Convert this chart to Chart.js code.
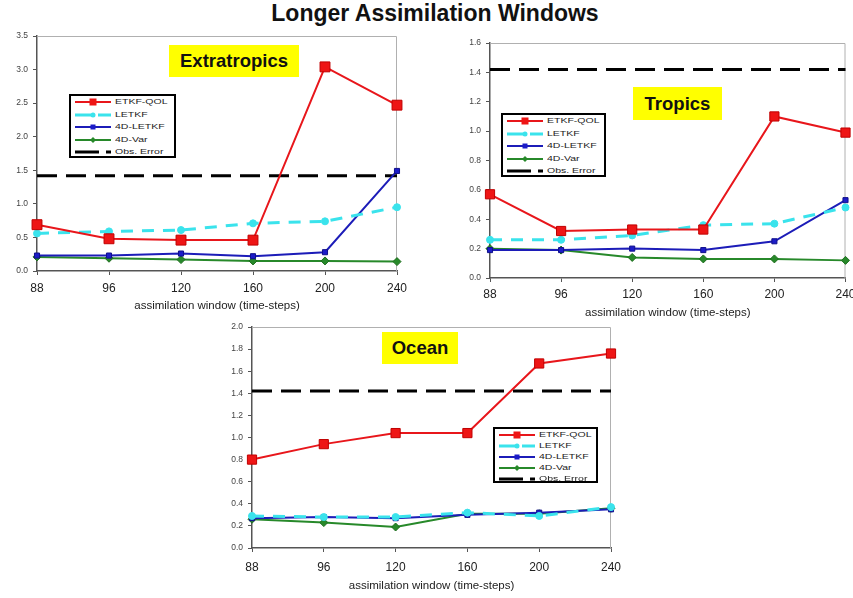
<!DOCTYPE html>
<html>
<head>
<meta charset="utf-8">
<script src="https://cdn.jsdelivr.net/npm/chart.js@4.4.1/dist/chart.umd.min.js"></script>
<style>
  html, body { margin: 0; padding: 0; background: #fff; }
  #page {
    position: relative;
    width: 853px;
    height: 598px;
    overflow: hidden;
    font-family: "Liberation Sans", Arial, sans-serif;
  }
  #page canvas { position: absolute; }
  .main-title {
    position: absolute;
    left: 0;
    top: 0;
    width: 870px;
    text-align: center;
    font-size: 23px;
    font-weight: bold;
    color: #111;
  }
  .badge {
    position: absolute;
    background: #ffff00;
    font-weight: bold;
    font-size: 18.5px;
    color: #111;
    display: flex;
    align-items: center;
    justify-content: center;
  }
  .legend {
    position: absolute;
    box-sizing: border-box;
    border: 2px solid #000;
    background: #fff;
  }
  .legend-row { position: absolute; left: 4px; height: 10px; }
  .legend-row svg { position: absolute; left: 0; top: 0; }
  .legend-row span {
    position: absolute;
    left: 40px;
    top: 0;
    font-family: "Liberation Sans", Arial, sans-serif;
    font-size: 7.5px;
    line-height: 10px;
    color: #222;
    white-space: nowrap;
    transform: scaleX(1.4);
    transform-origin: left center;
  }
</style>
</head>
<body>
<div id="page">
  <div class="main-title">Longer Assimilation Windows</div>
  <canvas id="chart-extra" width="412" height="290" style="left:0;top:28px"></canvas>
  <canvas id="chart-tropics" width="400" height="290" style="left:453px;top:35px"></canvas>
  <canvas id="chart-ocean" width="415" height="279" style="left:215px;top:319px"></canvas>
  <div class="badge" style="left:169px;top:45px;width:130px;height:32px">Extratropics</div>
  <div class="badge" style="left:633px;top:87px;width:89px;height:33px">Tropics</div>
  <div class="badge" style="left:382px;top:332px;width:76px;height:32px">Ocean</div>
  <div class="legend" id="legend-extra" style="left:69px;top:94px;width:107px;height:64px"></div>
  <div class="legend" id="legend-tropics" style="left:501px;top:113px;width:105px;height:64px"></div>
  <div class="legend" id="legend-ocean" style="left:493px;top:427px;width:105px;height:56px"></div>
</div>
<script>
var windows = ["88", "96", "120", "160", "200", "240"];
var seriesNames = ["ETKF-QOL", "LETKF", "4D-LETKF", "4D-Var", "Obs. Error"];
var xTitle = "assimilation window (time-steps)";

// Extratropics
var extraQol = [0.69, 0.48, 0.46, 0.46, 3.04, 2.47];
var extraLetkf = [0.56, 0.59, 0.61, 0.71, 0.74, 0.95];
var extra4dLetkf = [0.23, 0.23, 0.26, 0.22, 0.28, 1.49];
var extra4dVar = [0.21, 0.19, 0.17, 0.15, 0.15, 0.14];
var extraObs = [1.42, 1.42, 1.42, 1.42, 1.42, 1.42];
var extraTicks = [0.0, 0.5, 1.0, 1.5, 2.0, 2.5, 3.0, 3.5];

// Tropics
var tropQol = [0.57, 0.32, 0.33, 0.33, 1.10, 0.99];
var tropLetkf = [0.26, 0.26, 0.29, 0.36, 0.37, 0.48];
var trop4dLetkf = [0.19, 0.19, 0.20, 0.19, 0.25, 0.53];
var trop4dVar = [0.20, 0.19, 0.14, 0.13, 0.13, 0.12];
var tropObs = [1.42, 1.42, 1.42, 1.42, 1.42, 1.42];
var tropTicks = [0.0, 0.2, 0.4, 0.6, 0.8, 1.0, 1.2, 1.4, 1.6];

// Ocean
var oceanQol = [0.80, 0.94, 1.04, 1.04, 1.67, 1.76];
var oceanLetkf = [0.29, 0.28, 0.28, 0.32, 0.29, 0.37];
var ocean4dLetkf = [0.27, 0.28, 0.27, 0.30, 0.32, 0.35];
var ocean4dVar = [0.26, 0.23, 0.19, 0.31, 0.31, 0.36];
var oceanObs = [1.42, 1.42, 1.42, 1.42, 1.42, 1.42];
var oceanTicks = [0.0, 0.2, 0.4, 0.6, 0.8, 1.0, 1.2, 1.4, 1.6, 1.8, 2.0];

Chart.defaults.font.family = "'Liberation Sans', Arial, sans-serif";

// line styles, in the order of seriesNames
var styles = [
  { color: "#e8161b", fill: "#ee1515", edge: "#c00000", width: 2, dash: [], shape: "rect", radius: 7 },
  { color: "#3ae3ec", fill: "#3ae3ec", edge: "#3ae3ec", width: 3, dash: [12, 9], shape: "circle", radius: 3.5 },
  { color: "#1c1cb8", fill: "#1c1cc8", edge: "#10108a", width: 2, dash: [], shape: "rect", radius: 3.6 },
  { color: "#27892a", fill: "#27892a", edge: "#1d6d1d", width: 2, dash: [], shape: "rectRot", radius: 4 },
  { color: "#000000", fill: "#000000", edge: "#000000", width: 3, dash: [20, 9], shape: false, radius: 0 },
];

var plotFrame = {
  id: "plotFrame",
  beforeDatasetsDraw: function (chart) {
    var a = chart.chartArea;
    var ctx = chart.ctx;
    ctx.save();
    ctx.strokeStyle = "#b0b0b0";
    ctx.lineWidth = 1;
    ctx.beginPath();
    ctx.moveTo(a.left, a.top + 0.5);
    ctx.lineTo(a.right - 0.5, a.top + 0.5);
    ctx.lineTo(a.right - 0.5, a.bottom);
    ctx.stroke();
    ctx.restore();
  },
};

function buildChart(canvasId, series, ticks, box, redSize) {
  var datasets = series.map(function (values, i) {
    var s = styles[i];
    return {
      label: seriesNames[i],
      data: values,
      borderColor: s.color,
      borderWidth: s.width,
      borderDash: s.dash,
      pointStyle: s.shape,
      pointRadius: i === 0 ? redSize : s.radius,
      pointBackgroundColor: s.fill,
      pointBorderColor: s.edge,
      pointBorderWidth: 1,
      tension: 0,
      clip: false,
    };
  });

  return new Chart(document.getElementById(canvasId), {
    type: "line",
    data: { labels: windows, datasets: datasets },
    options: {
      responsive: false,
      animation: false,
      events: [],
      layout: { padding: { top: 8, right: box.right, left: 0, bottom: 0 } },
      plugins: { legend: { display: false }, tooltip: { enabled: false } },
      scales: {
        x: {
          offset: false,
          grid: { drawOnChartArea: false, drawTicks: true, tickLength: 4, color: "#555" },
          border: { color: "#555", width: 1.5 },
          ticks: { color: "#222", font: { size: 12 }, padding: box.labelPad, autoSkip: false, maxRotation: 0 },
          title: {
            display: true,
            text: xTitle,
            color: "#222",
            font: { size: 11.5 },
            padding: { top: 0, bottom: 5 },
          },
          afterFit: function (scale) {
            scale.height = box.xHeight;
            scale.paddingLeft = 0;
            scale.paddingRight = 0;
          },
        },
        y: {
          min: ticks[0],
          max: ticks[ticks.length - 1],
          grid: { drawOnChartArea: false, drawTicks: true, tickLength: 4, color: "#555" },
          border: { color: "#555", width: 1.5 },
          ticks: {
            color: "#444",
            font: { size: 8.5 },
            padding: 5,
            callback: function (v) {
              return Number(v).toFixed(1);
            },
          },
          afterBuildTicks: function (scale) {
            scale.ticks = ticks.map(function (v) {
              return { value: v };
            });
          },
          afterFit: function (scale) {
            scale.width = 37;
            scale.paddingTop = 0;
            scale.paddingBottom = 0;
          },
        },
      },
    },
    plugins: [plotFrame],
  });
}

function sampleSvg(s) {
  var svg = '<svg width="40" height="10" viewBox="0 0 40 10">';
  svg += '<line x1="0" y1="5" x2="36" y2="5" stroke="' + s.color + '" stroke-width="' + s.width + '"';
  if (s.dash.length) {
    svg += ' stroke-dasharray="' + (s.dash[0] + 4) + " " + (s.dash[1] - 2) + '"';
  }
  svg += "/>";
  if (s.shape === "rect") {
    var h = s.radius > 5 ? 3.5 : 2.5;
    svg += '<rect x="' + (18 - h) + '" y="' + (5 - h) + '" width="' + 2 * h + '" height="' + 2 * h + '" fill="' + s.fill + '"/>';
  } else if (s.shape === "circle") {
    svg += '<circle cx="18" cy="5" r="2.5" fill="' + s.fill + '"/>';
  } else if (s.shape === "rectRot") {
    svg += '<polygon points="18,2 21,5 18,8 15,5" fill="' + s.fill + '"/>';
  }
  return svg + "</svg>";
}

function buildLegend(id, rowTop, rowGap) {
  var el = document.getElementById(id);
  var html = "";
  seriesNames.forEach(function (name, i) {
    html +=
      '<div class="legend-row" style="top:' + (rowTop + i * rowGap) + 'px">' +
      sampleSvg(styles[i]) + "<span>" + name + "</span></div>";
  });
  el.innerHTML = html;
}

buildChart("chart-extra",
  [extraQol, extraLetkf, extra4dLetkf, extra4dVar, extraObs],
  extraTicks, { right: 15, xHeight: 47, labelPad: 6 }, 7);
buildChart("chart-tropics",
  [tropQol, tropLetkf, trop4dLetkf, trop4dVar, tropObs],
  tropTicks, { right: 2, xHeight: 47, labelPad: 5 }, 6.5);
buildChart("chart-ocean",
  [oceanQol, oceanLetkf, ocean4dLetkf, ocean4dVar, oceanObs],
  oceanTicks, { right: 19, xHeight: 50, labelPad: 8 }, 6.5);

buildLegend("legend-extra", 1, 12.6);
buildLegend("legend-tropics", 1, 12.5);
buildLegend("legend-ocean", 1, 11);
</script>
</body>
</html>
